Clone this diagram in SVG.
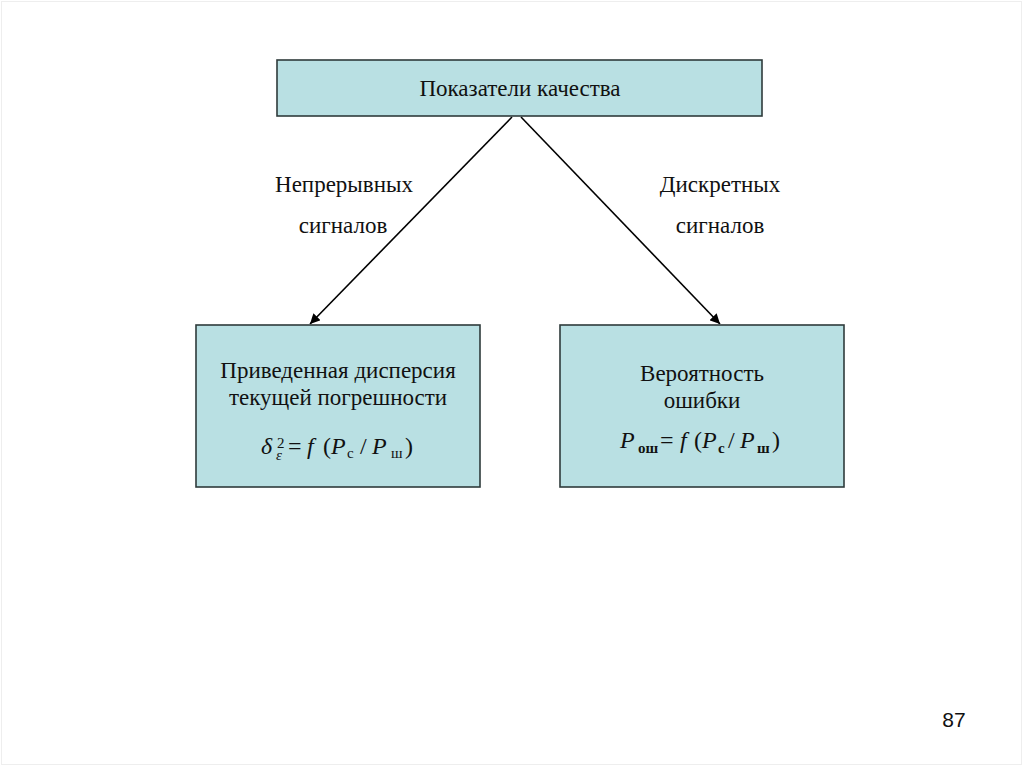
<svg xmlns="http://www.w3.org/2000/svg" width="1024" height="767" viewBox="0 0 1024 767">
<style>
.box{fill:#b9e0e3;stroke:#2f3b3b;stroke-width:1.6}
.t{font-family:"Liberation Serif",serif;font-size:23px;fill:#111;text-anchor:middle}
.m{font-family:"Liberation Serif",serif;font-size:24px;fill:#111}
.i{font-style:italic}
.s{font-size:15px}
.b{font-weight:bold}
.ln{stroke:#000;stroke-width:1.6;fill:none}
</style>
<defs>
<marker id="ah" viewBox="0 0 10 10" refX="10" refY="5" markerWidth="11" markerHeight="10" markerUnits="userSpaceOnUse" orient="auto">
<path d="M0,0 L10,5 L0,10 z" fill="#000"/>
</marker>
</defs>
<rect x="0" y="0" width="1024" height="767" fill="#fff"/>
<rect x="1.5" y="1.5" width="1020" height="763" fill="none" stroke="#eeeeee" stroke-width="1"/>
<g id="connectors">
<line class="ln" x1="512" y1="117" x2="310" y2="324" marker-end="url(#ah)"/>
<line class="ln" x1="521" y1="117" x2="720" y2="324" marker-end="url(#ah)"/>
<text class="t" x="344" y="192">Непрерывных</text>
<text class="t" x="343" y="233">сигналов</text>
<text class="t" x="720" y="192">Дискретных</text>
<text class="t" x="720" y="233">сигналов</text>
</g>
<g id="top">
<rect class="box" x="277" y="60" width="485" height="56"/>
<text class="t" x="520" y="96">Показатели качества</text>
</g>
<g id="left">
<rect class="box" x="196" y="325" width="284" height="162"/>
<text class="t" x="338" y="378">Приведенная дисперсия</text>
<text class="t" x="338" y="405">текущей погрешности</text>
<text class="m" y="454"><tspan class="i" x="261">δ</tspan><tspan class="i s" x="276" y="460">ε</tspan><tspan class="s" x="277" y="448">2</tspan><tspan x="288" y="454">=</tspan><tspan class="i" x="307">f</tspan><tspan x="323">(</tspan><tspan class="i" x="331">P</tspan><tspan class="s" x="347" y="458">с</tspan><tspan x="360" y="454">/</tspan><tspan class="i" x="372">P</tspan><tspan class="s" x="391" y="458">ш</tspan><tspan x="405" y="454">)</tspan></text>
</g>
<g id="right">
<rect class="box" x="560" y="325" width="284" height="162"/>
<text class="t" x="702" y="381">Вероятность</text>
<text class="t" x="702" y="408">ошибки</text>
<text class="m" y="448"><tspan class="i" x="620">P</tspan><tspan class="s b" x="638" y="453">ош</tspan><tspan x="660" y="448">=</tspan><tspan class="i" x="680">f</tspan><tspan x="694">(</tspan><tspan class="i" x="702">P</tspan><tspan class="s b" x="718" y="453">с</tspan><tspan x="728" y="448">/</tspan><tspan class="i" x="740">P</tspan><tspan class="s b" x="757" y="453">ш</tspan><tspan x="772" y="448">)</tspan></text>
</g>
<text x="954" y="727" font-family="Liberation Sans,sans-serif" font-size="21" text-anchor="middle" fill="#111">87</text>
</svg>
